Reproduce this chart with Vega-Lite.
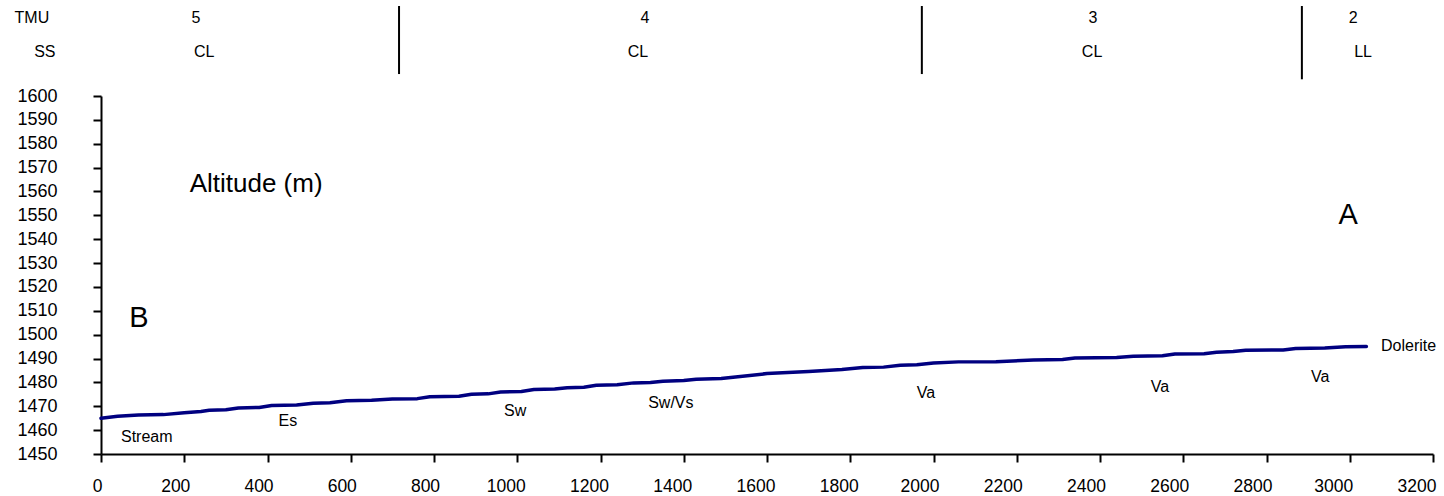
{
  "$schema": "https://vega.github.io/schema/vega-lite/v6.json",
  "width": 1332,
  "height": 358,
  "autosize": {"type": "none"},
  "padding": {"left": 101, "top": 96, "right": 11, "bottom": 42},
  "background": "white",
  "config": {
    "view": {"stroke": null},
    "font": "Liberation Sans",
    "text": {"font": "Liberation Sans", "color": "black"}
  },
  "datasets": {
    "profile": [
      {"x": 0, "y": 1465}, {"x": 40, "y": 1465.8}, {"x": 90, "y": 1466.3}, {"x": 150, "y": 1466.5},
      {"x": 200, "y": 1467.3}, {"x": 240, "y": 1467.8}, {"x": 260, "y": 1468.3}, {"x": 300, "y": 1468.5},
      {"x": 330, "y": 1469.3}, {"x": 380, "y": 1469.5}, {"x": 410, "y": 1470.3}, {"x": 470, "y": 1470.5},
      {"x": 510, "y": 1471.3}, {"x": 550, "y": 1471.5}, {"x": 590, "y": 1472.3}, {"x": 650, "y": 1472.5},
      {"x": 700, "y": 1473}, {"x": 760, "y": 1473.2}, {"x": 790, "y": 1474}, {"x": 860, "y": 1474.2},
      {"x": 890, "y": 1475}, {"x": 930, "y": 1475.2}, {"x": 960, "y": 1476}, {"x": 1010, "y": 1476.2},
      {"x": 1040, "y": 1477}, {"x": 1090, "y": 1477.2}, {"x": 1120, "y": 1477.8}, {"x": 1160, "y": 1478},
      {"x": 1190, "y": 1478.8}, {"x": 1240, "y": 1479}, {"x": 1280, "y": 1479.8}, {"x": 1320, "y": 1480},
      {"x": 1350, "y": 1480.5}, {"x": 1400, "y": 1480.8}, {"x": 1430, "y": 1481.3}, {"x": 1490, "y": 1481.6},
      {"x": 1600, "y": 1483.7}, {"x": 1700, "y": 1484.6}, {"x": 1780, "y": 1485.4}, {"x": 1830, "y": 1486.2},
      {"x": 1880, "y": 1486.4}, {"x": 1920, "y": 1487.2}, {"x": 1960, "y": 1487.4}, {"x": 2000, "y": 1488.1},
      {"x": 2060, "y": 1488.6}, {"x": 2150, "y": 1488.7}, {"x": 2240, "y": 1489.4}, {"x": 2310, "y": 1489.6},
      {"x": 2340, "y": 1490.2}, {"x": 2440, "y": 1490.4}, {"x": 2480, "y": 1491}, {"x": 2550, "y": 1491.2},
      {"x": 2580, "y": 1491.9}, {"x": 2650, "y": 1492}, {"x": 2680, "y": 1492.6}, {"x": 2720, "y": 1492.9},
      {"x": 2750, "y": 1493.5}, {"x": 2840, "y": 1493.6}, {"x": 2870, "y": 1494.2}, {"x": 2940, "y": 1494.4},
      {"x": 2990, "y": 1494.9}, {"x": 3040, "y": 1495}
    ],
    "rocks": [
      {"x": 110, "y": 1457.1, "label": "Stream"},
      {"x": 449, "y": 1463.8, "label": "Es"},
      {"x": 995, "y": 1468, "label": "Sw"},
      {"x": 1369, "y": 1471.4, "label": "Sw/Vs"},
      {"x": 1982, "y": 1475.5, "label": "Va"},
      {"x": 2544, "y": 1478, "label": "Va"},
      {"x": 2929, "y": 1482.3, "label": "Va"}
    ],
    "endlabel": [{"x": 3075, "y": 1495.2, "label": "Dolerite"}],
    "title": [{"x": 213, "y": 1563.1, "label": "Altitude (m)"}],
    "ends": [
      {"x": 91, "y": 1507, "label": "B"},
      {"x": 2996, "y": 1550.1, "label": "A"}
    ],
    "header": [
      {"x": -166, "y": 1632.7, "label": "TMU"},
      {"x": -135, "y": 1618.4, "label": "SS"},
      {"x": 228, "y": 1632.7, "label": "5"},
      {"x": 248, "y": 1618.4, "label": "CL"},
      {"x": 1307, "y": 1632.7, "label": "4"},
      {"x": 1290, "y": 1618.4, "label": "CL"},
      {"x": 2383, "y": 1632.7, "label": "3"},
      {"x": 2381, "y": 1618.4, "label": "CL"},
      {"x": 3008, "y": 1632.7, "label": "2"},
      {"x": 3032, "y": 1618.4, "label": "LL"}
    ],
    "dividers": [
      {"x": 716, "y": 1637.7, "y2": 1609.2},
      {"x": 1972, "y": 1637.7, "y2": 1609.2},
      {"x": 2885, "y": 1637.7, "y2": 1607}
    ]
  },
  "encoding": {
    "x": {
      "field": "x", "type": "quantitative",
      "scale": {"domain": [0, 3200], "nice": false, "zero": false},
      "axis": {
        "title": null,
        "format": "d",
        "values": [0, 200, 400, 600, 800, 1000, 1200, 1400, 1600, 1800, 2000, 2200, 2400, 2600, 2800, 3000, 3200],
        "grid": false,
        "domainColor": "black", "domainWidth": 2,
        "tickColor": "black", "tickWidth": 2, "tickSize": 8,
        "labelFont": "Liberation Sans", "labelFontSize": 17.5, "labelColor": "black",
        "labelPadding": 15, "labelFlush": false, "labelOverlap": false,
        "labelOffset": {
          "condition": [
            {"test": "datum.value < 100", "value": -4},
            {"test": "datum.value < 1000", "value": -9},
            {"test": "datum.value < 2000", "value": -11.5},
            {"test": "datum.value < 3000", "value": -14}
          ],
          "value": -16.5
        }
      }
    },
    "y": {
      "field": "y", "type": "quantitative",
      "scale": {"domain": [1450, 1600], "nice": false, "zero": false},
      "axis": {
        "title": null,
        "format": "d",
        "values": [1450, 1460, 1470, 1480, 1490, 1500, 1510, 1520, 1530, 1540, 1550, 1560, 1570, 1580, 1590, 1600],
        "grid": false,
        "domainColor": "black", "domainWidth": 2,
        "tickColor": "black", "tickWidth": 2, "tickSize": 8,
        "labelFont": "Liberation Sans", "labelFontSize": 18, "labelColor": "black",
        "labelPadding": 36, "labelFlush": false, "labelOverlap": false
      }
    }
  },
  "layer": [
    {
      "data": {"name": "profile"},
      "mark": {"type": "line", "color": "#000080", "strokeWidth": 3.5, "strokeCap": "round", "strokeJoin": "round", "clip": false}
    },
    {
      "data": {"name": "rocks"},
      "mark": {"type": "text", "fontSize": 16, "align": "center", "baseline": "middle"},
      "encoding": {"text": {"field": "label"}}
    },
    {
      "data": {"name": "endlabel"},
      "mark": {"type": "text", "fontSize": 16, "align": "left", "baseline": "middle"},
      "encoding": {"text": {"field": "label"}}
    },
    {
      "data": {"name": "title"},
      "mark": {"type": "text", "fontSize": 26, "align": "left", "baseline": "middle"},
      "encoding": {"text": {"field": "label"}}
    },
    {
      "data": {"name": "ends"},
      "mark": {"type": "text", "fontSize": 29, "align": "center", "baseline": "middle"},
      "encoding": {"text": {"field": "label"}}
    },
    {
      "data": {"name": "header"},
      "mark": {"type": "text", "fontSize": 16, "align": "center", "baseline": "middle"},
      "encoding": {"text": {"field": "label"}}
    },
    {
      "data": {"name": "dividers"},
      "mark": {"type": "rule", "color": "black", "strokeWidth": 2},
      "encoding": {"y2": {"field": "y2"}}
    }
  ]
}
